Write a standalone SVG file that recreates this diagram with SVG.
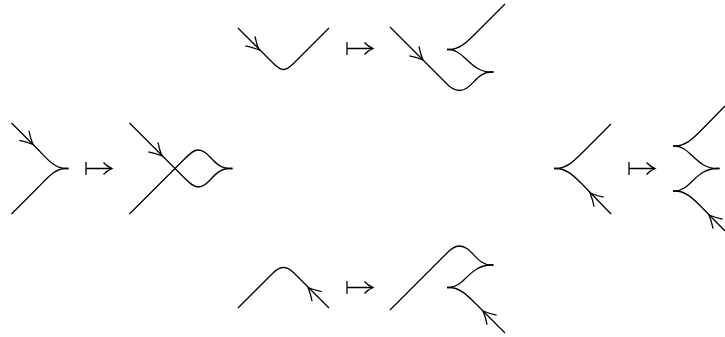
<svg xmlns="http://www.w3.org/2000/svg" width="725" height="337" viewBox="0 0 725 337">
<style>
path{fill:none;stroke:#000;stroke-width:1.3;stroke-linecap:butt}
</style>
<defs>
<path id="h" d="M-12.500,-6.800Q-6,-2.400 0,0Q-6,2.400 -12.500,6.800"/>
<g id="m"><path d="M0,-6.500V6.500M0,0H26"/><path d="M17.500,-6Q21,-2 26,0Q21,2 17.500,6"/></g>
</defs>
<rect width="725" height="337" fill="#fff"/>
<g id="fig-left-a">
<path d="M11.500,123L37,148.500C47,158.500 54,168.500 66,168.500H68.500"/>
<path d="M11.500,214L37,188.500C47,178.500 54,168.500 66,168.500H68.500"/>
<use href="#h" transform="translate(33,144.500) rotate(45)"/>
</g>
<g id="fig-left-b">
<path d="M129.500,123L175,168.500L185,178.500C191,184.500 194,187 198,187C210,187 213,168.500 230,168.500H232.500"/>
<path d="M129.500,214L175,168.500L185,158.500C191,152.500 194,150 198,150C210,150 213,168.500 230,168.500H232.500"/>
<use href="#h" transform="translate(162,156) rotate(45)"/>
</g>
<g id="fig-top-a">
<path d="M238,28L273,63C277,67 280,69.500 283.500,69.500C287,69.500 290,67 294,63L329,28"/>
<use href="#h" transform="translate(259,50) rotate(45)"/>
</g>
<g id="fig-top-b">
<path d="M390,27L449,86C453,89 456,90.500 459.500,90.500C472,90.500 476,72 491,72H493.500"/>
<path d="M447,49.500H449C459,49.500 466,43 475,34L505,4"/>
<path d="M447,49.500H449C464,49.500 470,72 491,72H493.500"/>
<use href="#h" transform="translate(423,60) rotate(45)"/>
</g>
<g id="fig-bottom-a">
<path d="M238,308L273,273C277,269 280,267.500 283.500,267.500C287,267.500 290,269 294,273L329,308"/>
<use href="#h" transform="translate(308,287.500) rotate(-135)"/>
</g>
<g id="fig-bottom-b">
<path d="M390,310L449,251C453,247.500 456,246 459.500,246C472,246 476,265 491,265H493.500"/>
<path d="M447,287.500H449C464,287.500 470,265 491,265H493.500"/>
<path d="M447,287.500H449C459,287.500 466,294 475,303L505,333"/>
<use href="#h" transform="translate(483,311) rotate(-135)"/>
</g>
<g id="fig-right-a">
<path d="M554,168.500H556C566,168.500 573,162 582,153L611,124"/>
<path d="M554,168.500H556C566,168.500 573,175 582,184L611,214"/>
<use href="#h" transform="translate(590,193) rotate(-135)"/>
</g>
<g id="fig-right-b">
<path d="M673,146H675C685,146 692,139.500 701,130.500L725,106"/>
<path d="M673,146H675C690,146 696,168.500 717,168.500H719.500"/>
<path d="M673,191H675C690,191 696,168.500 717,168.500H719.500"/>
<path d="M673,191H675C685,191 692,197.500 701,206.500L725,231"/>
<use href="#h" transform="translate(709,215) rotate(-135)"/>
</g>
<g id="connectors">
<use href="#m" transform="translate(86,168.500)"/>
<use href="#m" transform="translate(347,48.500)"/>
<use href="#m" transform="translate(347,287.500)"/>
<use href="#m" transform="translate(629,168.500)"/>
</g>
</svg>
